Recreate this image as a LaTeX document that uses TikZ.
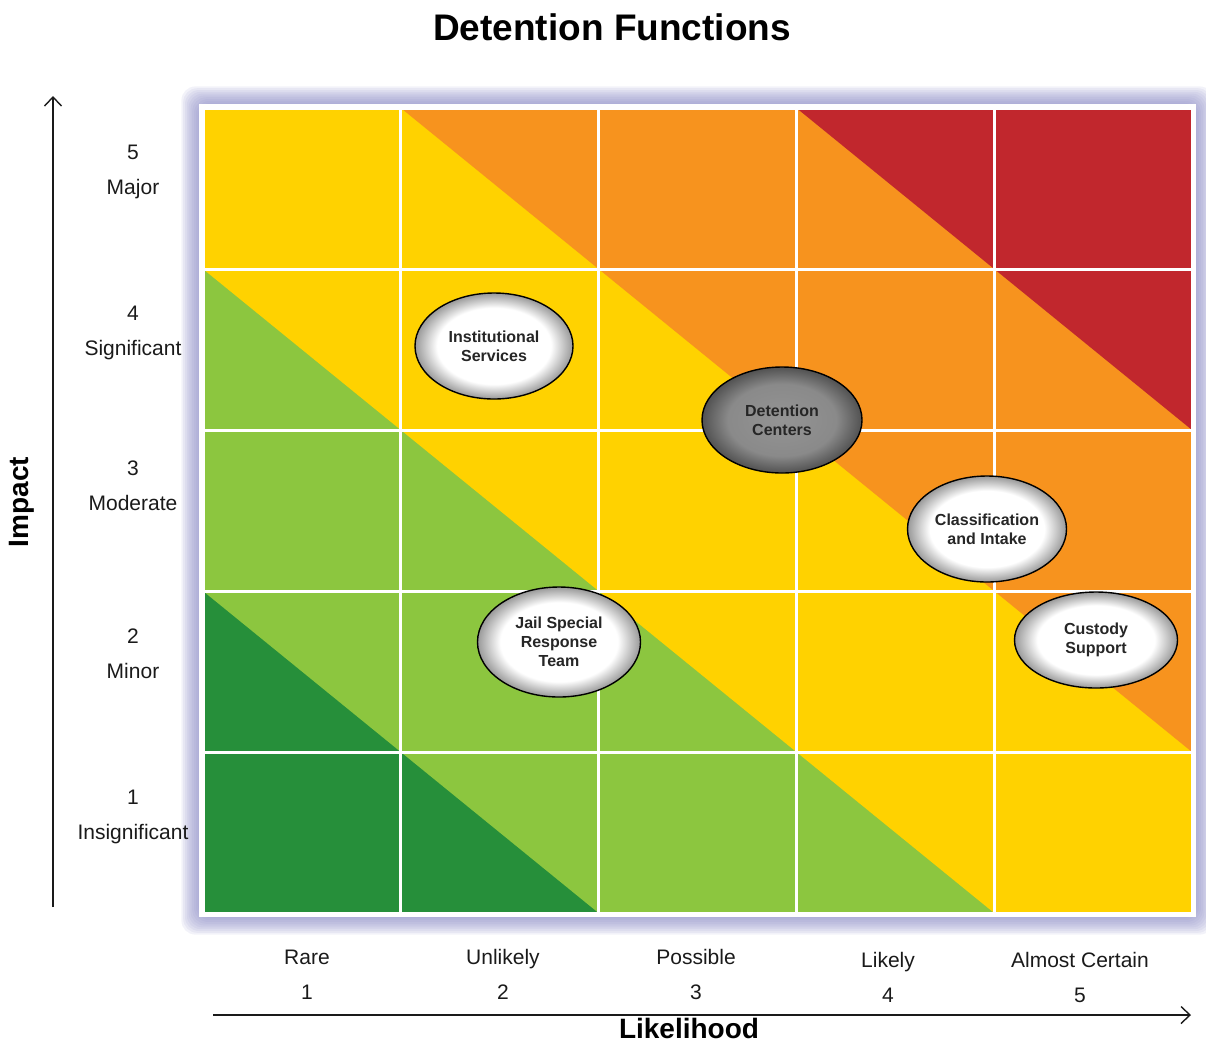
\documentclass[tikz,border=0pt]{standalone}
\usepackage{fontspec}
\setmainfont{Liberation Sans}
\usepackage{tikz}
\usetikzlibrary{arrows.meta,calc,shapes.geometric}
\definecolor{Risk1}{HTML}{268F3A}
\definecolor{Risk2}{HTML}{8CC63F}
\definecolor{Risk3}{HTML}{FFD200}
\definecolor{Risk4}{HTML}{F7931E}
\definecolor{Risk5}{HTML}{C1272D}
\definecolor{GlowLav}{HTML}{8C8CC6}
\definecolor{AxisInk}{HTML}{1A1A1A}
\pgfdeclareradialshading{bubblelight}{\pgfpoint{0bp}{0bp}}{color(0bp)=(white); color(18bp)=(white); color(25bp)=(black!40); color(50bp)=(black!40)}
\pgfdeclareradialshading{bubbledark}{\pgfpoint{0bp}{0bp}}{color(0bp)=(black!42); color(17bp)=(black!46); color(25bp)=(black!68); color(50bp)=(black!68)}

\begin{document}
\begin{tikzpicture}[x=1pt,y=-1pt,
  axislabel/.style={font=\fontsize{21}{35}\selectfont,align=center,text=AxisInk},
  axistitle/.style={font=\bfseries\fontsize{28}{32}\selectfont,text=black},
  bubble/.style={ellipse,draw=black,line width=1.4pt,shading=bubblelight,
    font=\bfseries\fontsize{16}{19}\selectfont,align=center,inner sep=0pt,text=black!85},
  axisarrow/.style={line width=1.1pt,AxisInk,-{Straight Barb[length=9pt,width=17pt,line width=1.4pt]}}]
  \useasboundingbox (0,0) rectangle (1206,1042);
  \def\cw{197.8}
  \def\ch{161}
  % glow round the grid
  \foreach \r in {1,...,12}
    \fill[GlowLav,opacity=0.11,rounded corners=14pt]
      ({203-1.8*\r},{108-1.8*\r}) rectangle ({1192+1.8*\r},{913+1.8*\r});
  \fill[white] (199,104) rectangle (1196,917);
  % risk cells, split on the diagonal
  \foreach \i in {1,...,5}{
    \foreach \j in {1,...,5}{
      \pgfmathtruncatemacro{\up}{(\i+\j+1)/2}
      \pgfmathtruncatemacro{\lo}{(\i+\j)/2}
      \coordinate (tl) at ({203+(\i-1)*\cw},{108+(5-\j)*\ch});
      \coordinate (br) at ({203+\i*\cw},{108+(6-\j)*\ch});
      \fill[Risk\lo] (tl) rectangle (br);
      \fill[Risk\up] (tl) -- (tl -| br) -- (br) -- cycle;
    }
  }
  \foreach \k in {0,...,5}{
    \draw[white,line width=3pt] ({203+\k*\cw},106) -- ({203+\k*\cw},915);
    \draw[white,line width=3pt] (201,{108+\k*\ch}) -- (1194,{108+\k*\ch});
  }
  % title and axes
  \node[font=\bfseries\fontsize{37}{40}\selectfont] (title) at (612,27) {Detention Functions};
  \node[axistitle,rotate=90] (impact) at (22,502) {Impact};
  \node[axistitle,inner sep=1pt] (likelihood) at (689,1028) {Likelihood};
  \coordinate (ybot) at (53,907);
  \coordinate (ytop) at (53,96);
  \coordinate (xleft) at (213,1015);
  \coordinate (xright) at (1191,1015);
  \draw[axisarrow] (ybot) -- (ytop);
  \draw[axisarrow] (xleft) -- (xright);
  \node[axislabel] (imp5) at (133,172) {5\\Major};
  \node[axislabel] (imp4) at (133,333) {4\\Significant};
  \node[axislabel] (imp3) at (133,486) {3\\Moderate};
  \node[axislabel] (imp2) at (133,654) {2\\Minor};
  \node[axislabel] (imp1) at (133,817) {1\\Insignificant};
  \node[axislabel] (lik1) at (307,975) {Rare\\1};
  \node[axislabel] (lik2) at (503,974) {Unlikely\\2};
  \node[axislabel] (lik3) at (696,974) {Possible\\3};
  \node[axislabel] (lik4) at (888,977) {Likely\\4};
  \node[axislabel] (lik5) at (1080,977) {Almost Certain\\5};
  % functions
  \node[bubble,minimum width=158pt,minimum height=106pt] (institutional) at (494,346) {Institutional\\Services};
  \node[bubble,shading=bubbledark,minimum width=160pt,minimum height=106pt] (detention) at (782,420) {Detention\\Centers};
  \node[bubble,minimum width=159pt,minimum height=106pt] (classification) at (987,529) {Classification\\and Intake};
  \node[bubble,minimum width=163pt,minimum height=110pt] (jail) at (559,642) {Jail Special\\Response\\Team};
  \node[bubble,minimum width=163pt,minimum height=96pt] (custody) at (1096,640) {Custody\\Support};
\end{tikzpicture}
\end{document}
